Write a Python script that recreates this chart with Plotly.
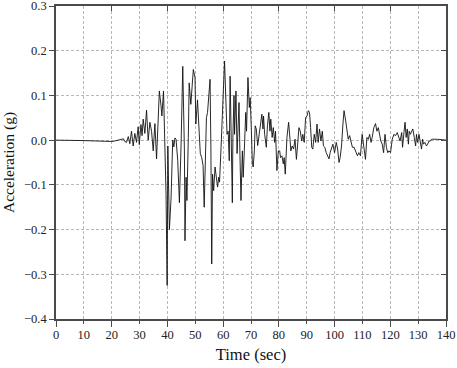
import plotly.graph_objects as go

# Time (sec) and acceleration (g)
time_s = [0, 5, 10, 15, 18, 20, 21, 22.4, 23.3, 24.2, 24.7, 25.3, 25.95, 26.5, 27.1, 27.7,
          28.3, 28.9, 29.5, 29.9, 30.5, 30.9, 31.3, 31.9, 32.5, 33.1, 33.7, 34.3, 34.9,
          35.5, 36.1, 36.5, 37.1, 37.7, 38.0, 38.6, 39.1, 39.5, 39.9, 40.15, 40.7, 41.3,
          41.9, 42.3, 42.7, 43.1, 43.7, 44.3, 44.9, 45.5, 46.1, 46.3, 46.7, 47.0, 47.5,
          47.8, 48.4, 49.0, 49.3, 49.9, 50.2, 50.8, 51.2, 51.8, 52.3, 52.8, 53.2, 53.6,
          54.0, 54.4, 54.9, 55.3, 55.6, 55.9, 56.2, 56.6, 57.1, 57.5, 58.0, 58.4, 58.7,
          59.2, 59.8, 60.2, 60.5, 61.0, 61.4, 61.8, 62.2, 62.5, 62.9, 63.3, 63.5, 63.9,
          64.1, 64.6, 65.0, 65.3, 65.7, 66.0, 66.4, 66.9, 67.2, 67.6, 68.1, 68.4, 68.9,
          69.4, 69.7, 70.1, 70.5, 70.8, 71.2, 71.5, 71.9, 72.4, 72.9, 73.3, 73.9, 74.3,
          74.5, 74.9, 75.5, 75.9, 76.4, 76.8, 77.1, 77.6, 78.0, 78.5, 78.8, 79.3, 79.8,
          80.3, 80.6, 81.1, 81.6, 81.9, 82.3, 82.9, 83.5, 84.0, 84.3, 84.8, 85.3, 85.8,
          86.3, 86.7, 87.2, 87.7, 88.2, 88.6, 89.1, 89.6, 90.1, 90.6, 91.0, 91.4, 91.8,
          92.2, 92.7, 93.2, 93.7, 94.1, 94.6, 95.1, 95.6, 96.0, 96.5, 97.0, 97.5, 98.0,
          98.4, 98.9, 99.4, 100.0, 100.6, 101.1, 101.6, 102.0, 102.5, 103.0, 103.4,
          104.0, 104.4, 104.9, 105.4, 105.9, 106.4, 107.0, 107.6, 108.2, 108.7, 109.3,
          109.9, 110.5, 111.1, 111.6, 112.1, 112.6, 113.1, 113.5, 114.1, 114.7, 115.2,
          115.7, 116.2, 116.6, 117.1, 117.6, 118.1, 118.6, 119.1, 119.5, 120.1, 120.7,
          121.3, 121.9, 122.5, 123.1, 123.5, 124.1, 124.4, 124.9, 125.3, 125.7, 126.1,
          126.5, 126.8, 127.2, 127.7, 128.1, 128.6, 129.1, 129.4, 129.8, 130.3, 130.8,
          131.2, 131.6, 131.9, 132.4, 133.0, 133.4, 133.9, 134.4, 134.8, 135.4, 137, 140]
accel_g = [0, 0, -0.001, -0.002, -0.003, -0.003, -0.002, 0, 0.002, 0.003, -0.003, -0.005, 0.008,
           -0.008, 0.02, -0.013, 0.015, -0.005, 0.03, -0.01, 0.035, 0.01, 0.047, 0.015,
           0.067, 0.0, 0.04, 0.02, -0.024, 0.037, -0.042, 0.02, 0.11, 0.077, 0.054, 0.11,
           0.0, -0.12, -0.325, -0.013, -0.2, -0.13, 0.0, -0.015, 0.005, 0.002, -0.046,
           -0.14, -0.009, 0.165, -0.024, -0.225, -0.083, -0.135, 0.006, 0.128, 0.08, 0.147,
           0.158, 0.14, 0.036, 0.09, 0.05, -0.03, -0.039, -0.057, -0.15, -0.068, 0.05,
           0.062, 0.1, 0.136, -0.016, -0.277, -0.076, -0.113, -0.06, -0.087, -0.105,
           -0.083, -0.094, -0.024, 0.05, 0.13, 0.177, 0.08, 0.013, 0.02, -0.046, 0.143,
           0.0, -0.14, 0.006, 0.1, 0.013, 0.11, -0.03, 0.006, 0.084, -0.024, -0.135,
           -0.024, -0.083, -0.024, 0.062, 0.02, 0.14, 0.073, 0.095, 0.028, -0.054, -0.06,
           -0.024, 0.032, 0.025, -0.012, 0.013, 0.028, 0.058, 0.025, 0.054, 0.013, -0.016,
           0.032, 0.062, 0.02, 0.047, 0.006, 0.028, -0.005, 0.02, -0.068, -0.024, -0.024,
           -0.039, -0.035, -0.053, -0.039, -0.076, 0.006, 0.04, 0.002, -0.024, -0.013,
           -0.02, 0.002, -0.043, -0.013, 0.028, 0.02, -0.002, 0.013, -0.005, 0.05, 0.054,
           0.066, 0.062, 0.028, -0.016, -0.02, 0.013, -0.005, 0.036, -0.005, 0.025,
           -0.002, 0.02, -0.013, -0.016, -0.028, -0.035, -0.042, -0.028, -0.02, -0.009,
           -0.028, -0.005, -0.02, -0.05, -0.039, -0.013, 0.036, 0.066, 0.043, 0.028,
           0.002, 0.01, -0.005, -0.016, -0.016, -0.024, -0.035, -0.028, -0.035, 0.013,
           -0.016, -0.043, 0.006, 0.002, 0.013, -0.005, 0.006, 0.028, 0.037, 0.02, 0.028,
           0.01, -0.002, -0.009, -0.028, 0.013, -0.016, -0.028, -0.024, -0.028, 0.002,
           0.013, 0.01, 0.017, 0.006, -0.002, 0.017, -0.016, 0.017, 0.04, 0.006, 0.025,
           -0.009, 0.02, 0.013, 0.021, 0.025, 0.006, -0.013, 0.013, -0.005, 0.013, -0.013,
           -0.02, 0.002, -0.009, -0.005, -0.013, -0.009, -0.002, -0.002, 0.002, 0.002,
           0.002, 0.0]

x_ticks = list(range(0, 141, 10))
y_ticks = [-0.4, -0.3, -0.2, -0.1, 0.0, 0.1, 0.2, 0.3]

FONT = "Liberation Serif"
FRAME = "#4a4a4a"
GRID = "#b8b8b8"

fig = go.Figure()
fig.add_trace(go.Scatter(x=time_s, y=accel_g, mode="lines",
                         line=dict(color="#111111", width=0.9), showlegend=False,
                         hoverinfo="skip"))
# invisible trace to activate the top/right tick axes
fig.add_trace(go.Scatter(x=[0, 140], y=[-0.4, 0.3], xaxis="x2", yaxis="y2", mode="lines",
                         line=dict(color="rgba(0,0,0,0)", width=0), showlegend=False,
                         hoverinfo="skip"))

fig.update_layout(
    width=457, height=368, autosize=False,
    margin=dict(l=56, r=11, t=6, b=49),
    paper_bgcolor="white", plot_bgcolor="white",
    font=dict(family=FONT, size=12, color="#222"),
    xaxis=dict(range=[0, 140], tickvals=x_ticks, ticks="outside", ticklen=3,
               tickwidth=1.2, tickcolor=FRAME, automargin=False, ticklabeloverflow="allow",
               showgrid=True, gridcolor=GRID, griddash="3px,2px", gridwidth=1,
               showline=True, linecolor=FRAME, linewidth=1.6, mirror=True,
               zeroline=False, tickfont=dict(family=FONT, size=12.5, color="#222"),
               title=dict(text="Time (sec)", font=dict(family=FONT, size=16.5, color="#111"),
                          standoff=8),
               minor=dict(tickvals=list(range(0, 141, 20)), ticks="outside", ticklen=6,
                          tickwidth=1.2, tickcolor=FRAME, showgrid=False)),
    yaxis=dict(range=[-0.4, 0.3], tickvals=y_ticks, tickformat=".1f", ticks="outside",
               ticklen=5, tickwidth=1.2, tickcolor=FRAME, automargin=False,
               ticklabeloverflow="allow",
               showgrid=True, gridcolor=GRID, griddash="3px,2px", gridwidth=1,
               showline=True, linecolor=FRAME, linewidth=1.6, mirror=True,
               zeroline=False, tickfont=dict(family=FONT, size=12.5, color="#222"),
               title=dict(text="Acceleration (g)",
                          font=dict(family=FONT, size=15.5, color="#111"), standoff=6)),
    xaxis2=dict(range=[0, 140], overlaying="x", side="top", anchor="y2",
                tickvals=list(range(0, 141, 20)), ticks="inside", ticklen=5,
                tickwidth=1.2, tickcolor=FRAME, showticklabels=False, showgrid=False,
                zeroline=False, showline=False, automargin=False),
    yaxis2=dict(range=[-0.4, 0.3], overlaying="y", side="right", anchor="x2",
                tickvals=y_ticks, ticks="inside", ticklen=5, tickwidth=1.2,
                tickcolor=FRAME, showticklabels=False, showgrid=False,
                zeroline=False, showline=False, automargin=False),
)

fig.write_html("out.html", config={"displayModeBar": False},
               post_script="document.body.style.margin='0';document.body.style.overflow='hidden';")
